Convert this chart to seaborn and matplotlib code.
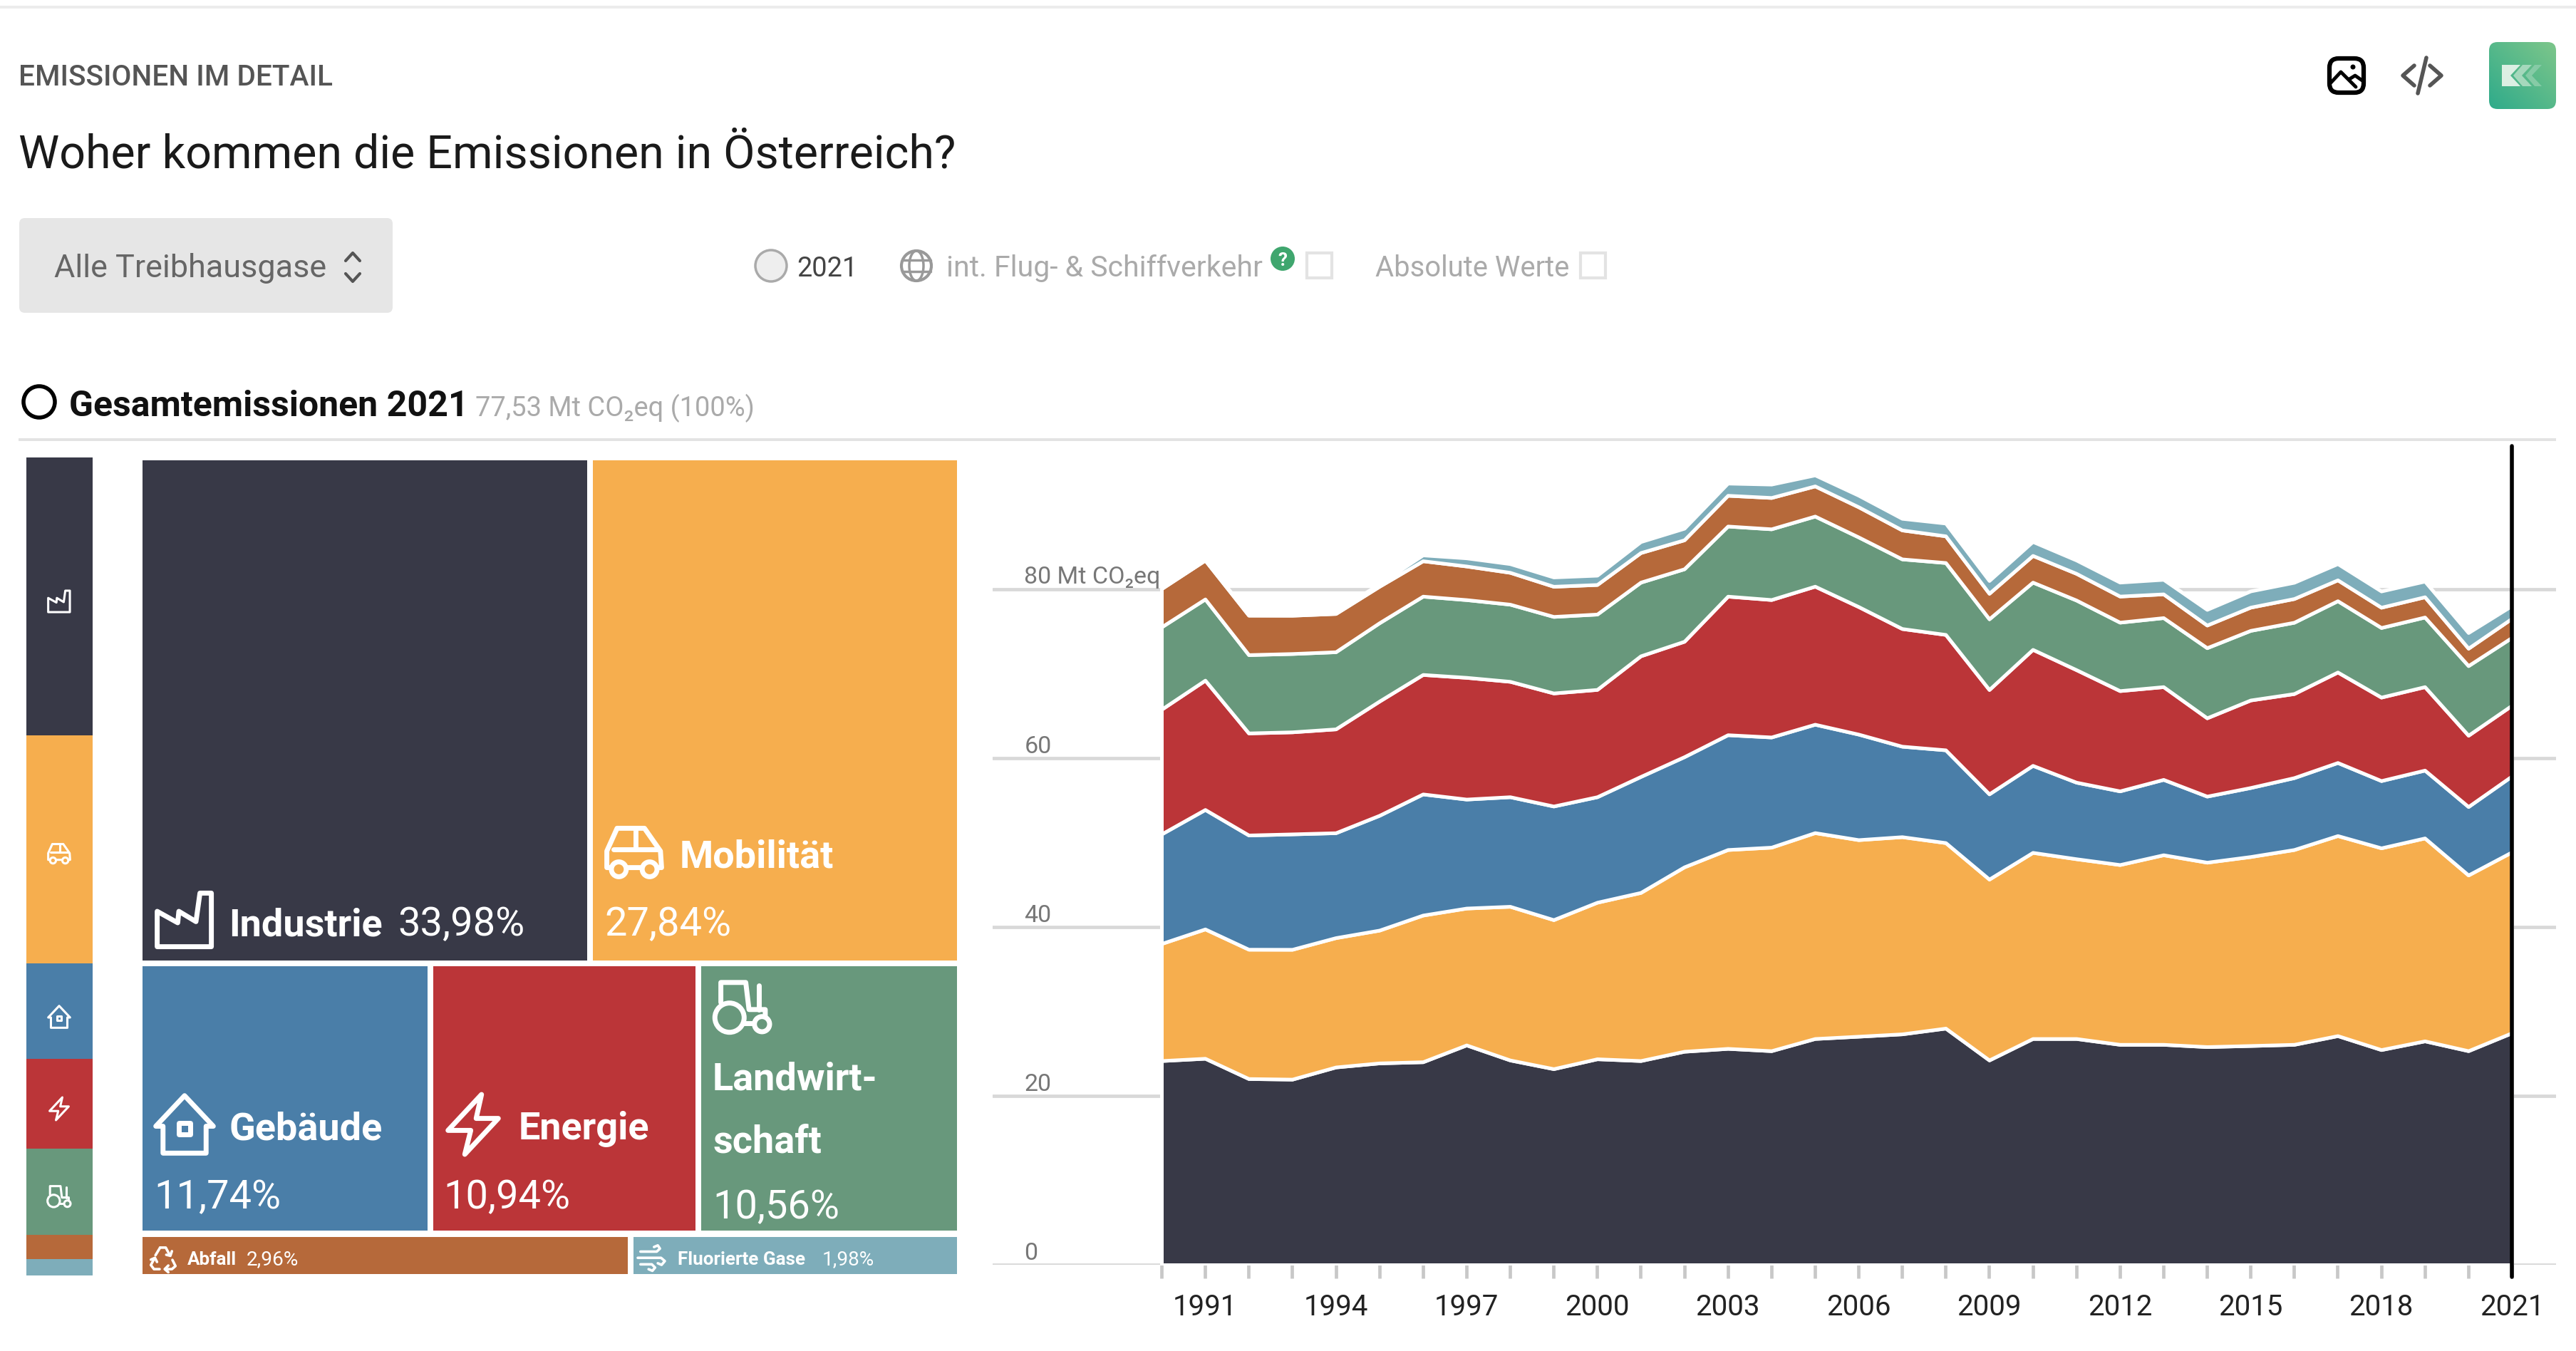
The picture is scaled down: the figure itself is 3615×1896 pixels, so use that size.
"""
Woher kommen die Emissionen in Oesterreich? - treemap plus stacked area
"""
import numpy as np
import pandas as pd
import matplotlib
matplotlib.use('Agg')
import matplotlib.pyplot as plt
from matplotlib.patches import Circle, FancyBboxPatch, Polygon, Rectangle
import seaborn as sns

W, H = 3615, 1896

YEARS = list(range(1990, 2022))
SECTORS = ['Industrie', 'Mobilität', 'Gebäude', 'Energie', 'Landwirtschaft', 'Abfall', 'Fluorierte Gase']
COLORS = ['#383947', '#F6AE4E', '#4A7EA8', '#BB3538', '#68987C', '#B6693A', '#7EADBA']
SHARES = [33.98, 27.84, 11.74, 10.94, 10.56, 2.96, 1.98]

industrie = [24.16, 24.43, 22.03, 21.96, 23.40, 23.88, 24.02, 26.01, 24.23, 23.20, 24.37, 24.16, 25.26, 25.60, 25.33, 26.77,
             27.04, 27.32, 28.00, 24.23, 26.77, 26.77, 26.08, 26.08, 25.81, 25.94, 26.08, 27.11, 25.46, 26.49, 25.33, 27.45]
mobilitaet = [13.86, 15.31, 15.31, 15.37, 15.31, 15.72, 17.36, 16.20, 18.19, 17.64, 18.53, 19.90, 21.83, 23.54, 24.09, 24.37,
              23.27, 23.34, 21.96, 21.41, 22.03, 21.28, 21.28, 22.44, 21.83, 22.37, 23.06, 23.68, 23.88, 24.02, 20.80, 21.41]
gebaeude = [12.97, 14.14, 13.52, 13.66, 12.42, 13.59, 14.34, 12.90, 12.97, 13.45, 12.49, 13.73, 13.04, 13.59, 13.04, 12.83,
            12.49, 10.71, 10.98, 10.09, 10.30, 9.06, 8.72, 8.92, 7.82, 8.17, 8.51, 8.65, 7.96, 8.03, 8.10, 8.99]
energie = [14.76, 15.31, 12.08, 12.08, 12.29, 13.52, 14.14, 14.41, 13.66, 13.38, 12.70, 14.28, 13.66, 16.40, 16.27, 16.34,
           15.10, 13.93, 13.66, 12.35, 13.73, 13.32, 11.87, 10.98, 9.27, 10.36, 9.95, 10.71, 9.88, 9.88, 8.44, 8.37]
landwirtschaft = [9.75, 9.61, 9.27, 9.27, 9.13, 9.27, 9.27, 9.20, 9.13, 9.06, 8.92, 8.72, 8.58, 8.30, 8.37, 8.30,
                  8.24, 8.24, 8.51, 8.37, 7.96, 8.24, 8.10, 8.17, 8.30, 8.24, 8.44, 8.44, 8.24, 8.24, 8.24, 8.03]
abfall = [4.53, 4.60, 4.67, 4.53, 4.53, 4.32, 4.19, 3.98, 3.77, 3.57, 3.50, 3.50, 3.43, 3.64, 3.71, 3.57,
          3.57, 3.43, 3.16, 3.02, 3.16, 3.16, 3.09, 2.81, 2.68, 2.75, 2.81, 2.47, 2.40, 2.40, 2.06, 2.26]
fluor = [0.05, 0.05, 0.1, 0.2, 0.25, 0.3, 0.69, 0.96, 1.03, 1.10, 1.10, 1.30, 1.37, 1.44, 1.58, 1.30,
         1.37, 1.37, 1.51, 1.51, 1.65, 1.58, 1.65, 1.72, 1.85, 1.92, 1.92, 1.92, 1.92, 1.85, 1.85, 1.51]
SERIES = [industrie, mobilitaet, gebaeude, energie, landwirtschaft, abfall, fluor]

YTICKS = [0, 20, 40, 60, 80]
YLABELS = ['0', '20', '40', '60', '80 Mt CO₂eq']
XLABEL_YEARS = list(range(1991, 2022, 3))

sns.set_theme(style='white')
plt.rcParams['font.family'] = ['Roboto', 'DejaVu Sans']

fig = plt.figure(figsize=(W / 100, H / 100), dpi=100, facecolor='white')


def px_axes(x0, y0, x1, y1, **kw):
    return fig.add_axes([x0 / W, 1 - y1 / H, (x1 - x0) / W, (y1 - y0) / H], **kw)


# stacked area
chart_x0, chart_x1 = 1630, 3525
yr_px = (chart_x1 - chart_x0) / 31
val_px = (1775 - 826.5) / 80
ax = px_axes(1393, 626, 3587, 1775)
df = pd.DataFrame({'year': YEARS * len(SECTORS),
                   'sector': [s for s in SECTORS for _ in YEARS],
                   'value': np.concatenate(SERIES)})
sns.histplot(data=df, x='year', weights='value', hue='sector', hue_order=SECTORS[::-1],
             palette=dict(zip(SECTORS, COLORS)), multiple='stack', element='poly', discrete=True,
             alpha=1, edgecolor='white', linewidth=3.6, legend=False, ax=ax, zorder=3)
ax.set_xlim(1990 - (chart_x0 - 1393) / yr_px, 2021 + (3587 - chart_x1) / yr_px)
ax.set_ylim(0, (1775 - 626) / val_px)
ax.set_xlabel('')
ax.set_ylabel('')
ax.set_yticks(YTICKS)
ax.set_yticklabels([])
ax.yaxis.grid(True, color='#D8D8D8', linewidth=3.4, zorder=0)
ax.xaxis.grid(False)
ax.set_axisbelow(True)
ax.tick_params(axis='y', length=0)
ax.set_xticks(YEARS)
ax.set_xticklabels([str(y) if y in XLABEL_YEARS else '' for y in YEARS], fontsize=29, color='#222222')
ax.tick_params(axis='x', length=14, width=3.4, color='#C8C8C8', pad=15, bottom=True)
sns.despine(ax=ax, left=True, bottom=True, top=True, right=True)
for t, lab in zip(YTICKS, YLABELS):
    ax.text(1986.85, t + 0.6, lab, fontsize=24.5, color='#777777', va='baseline', ha='left', zorder=1)
ax.plot([2021, 2021], [-1.4, ax.get_ylim()[1]], color='black', linewidth=4, clip_on=False, zorder=5)

# left stacked bar, same shares as the treemap
ax_bar = px_axes(37, 642, 130, 1790)
df_share = pd.DataFrame({'pos': [0] * len(SECTORS), 'sector': SECTORS, 'share': SHARES})
sns.histplot(data=df_share, x='pos', weights='share', hue='sector', hue_order=SECTORS,
             palette=dict(zip(SECTORS, COLORS)), multiple='stack', discrete=True, shrink=1,
             alpha=1, linewidth=0, legend=False, ax=ax_bar)
ax_bar.set_xlim(-0.5, 0.5)
ax_bar.set_ylim(0, sum(SHARES))
ax_bar.axis('off')

# treemap, rectangles follow from the shares row by row
ax_tree = px_axes(200, 646, 1343, 1788)
ax_tree.set_xlim(0, 100)
ax_tree.set_ylim(sum(SHARES), 0)
ax_tree.axis('off')
gap = 0.36
row_top = 0
for row in [(0, 1), (2, 3, 4), (5, 6)]:
    row_sum = sum(SHARES[i] for i in row)
    left = 0
    for i in row:
        wd = SHARES[i] / row_sum * 100
        x_a = left + (gap if left > 0 else 0)
        x_b = left + wd - (gap if left + wd < 99.9 else 0)
        y_a = row_top + (gap if row_top > 0 else 0)
        y_b = row_top + row_sum - (gap if row_top + row_sum < 99.9 else 0)
        ax_tree.add_patch(Rectangle((x_a, y_a), x_b - x_a, y_b - y_a, facecolor=COLORS[i], edgecolor='none'))
        left += wd
    row_top += row_sum

# overlay in pixel coords for all the page furniture
ui = fig.add_axes([0, 0, 1, 1], facecolor='none')
ui.set_xlim(0, W)
ui.set_ylim(H, 0)
ui.axis('off')


def txt(x, y, s, px, color='#222222', weight='normal', ha='left'):
    return ui.text(x, y, s, fontsize=px * 0.72, color=color, fontweight=weight, ha=ha, va='baseline')


def stroke(pts, lw, color='white', closed=False, fc='none'):
    ui.add_patch(Polygon(pts, closed=closed, fill=fc != 'none', facecolor=fc, edgecolor=color,
                         linewidth=lw, joinstyle='round', capstyle='round'))


def icon(name, cx, cy, s, lw, bg, color='white'):
    def P(pts):
        return [(cx + a * s, cy + b * s) for a, b in pts]

    def C(a, b, r):
        ui.add_patch(Circle((cx + a * s, cy + b * s), r * s, facecolor=bg, edgecolor=color, linewidth=lw))

    if name == 'factory':
        stroke(P([(-.48, .47), (-.48, -.15), (-.12, .05), (-.1, -.15), (.2, .03), (.27, -.47), (.47, -.47), (.47, .47)]), lw, color, True)
    elif name == 'car':
        stroke(P([(-.48, .27), (-.48, -.02), (-.3, -.42), (.18, -.42), (.46, -.02), (.48, .27)]), lw, color, True)
        stroke(P([(-.36, -.05), (.42, -.05)]), lw, color)
        stroke(P([(.02, -.42), (.02, -.05)]), lw, color)
        C(-.27, .3, .13)
        C(.27, .3, .13)
    elif name == 'house':
        stroke(P([(-.48, .03), (0, -.48), (.48, .03), (.36, .03), (.36, .48), (-.36, .48), (-.36, .03)]), lw, color, True)
        stroke(P([(-.09, -.02), (.09, -.02), (.09, .17), (-.09, .17)]), lw, color, True)
    elif name == 'bolt':
        stroke(P([(.14, -.5), (-.42, .1), (-.04, .1), (-.14, .5), (.42, -.1), (.05, -.1)]), lw, color, True)
    elif name == 'tractor':
        stroke(P([(-.4, -.08), (-.4, -.45), (.06, -.45), (.12, .05), (.42, .05), (.42, .2)]), lw, color)
        stroke(P([(.3, .05), (.3, -.4)]), lw, color)
        stroke(P([(.02, .3), (.22, .3)]), lw, color)
        C(-.24, .2, .27)
        C(.36, .32, .14)
    elif name == 'recycle':
        stroke(P([(-.12, -.42), (.1, -.42), (.24, -.16)]), lw, color)
        stroke(P([(.12, -.14), (.28, -.1), (.34, -.28)]), lw, color)
        stroke(P([(.36, .06), (.48, .3), (.34, .42), (.08, .42)]), lw, color)
        stroke(P([(.2, .28), (.06, .42), (.2, .54)]), lw, color)
        stroke(P([(-.14, .42), (-.36, .42), (-.48, .26), (-.34, 0)]), lw, color)
        stroke(P([(-.48, .05), (-.32, -.02), (-.24, .14)]), lw, color)
        stroke(P([(-.3, -.12), (-.12, -.42)]), lw, color)
    elif name == 'wind':
        stroke(P([(-.4, -.25), (.2, -.25), (.32, -.36), (.24, -.48), (.1, -.42)]), lw, color)
        stroke(P([(-.5, -.02), (.36, -.02), (.5, .1), (.38, .24), (.24, .18)]), lw, color)
        stroke(P([(-.4, .22), (.02, .22), (.14, .34), (.04, .46), (-.1, .4)]), lw, color)


# header
ui.add_patch(Rectangle((0, 8), W, 4, facecolor='#ECECEC', edgecolor='none'))
txt(26, 120, 'EMISSIONEN IM DETAIL', 40.5, color='#555555', weight='medium')
txt(26, 235, 'Woher kommen die Emissionen in Österreich?', 64.5, color='#1A1A1A')
ui.add_patch(FancyBboxPatch((33, 312), 512, 121, boxstyle='round,pad=6,rounding_size=8', facecolor='#E6E6E6', edgecolor='none'))
txt(76, 389, 'Alle Treibhausgase', 45, color='#666666')
stroke([(485, 366), (495, 355), (505, 366)], 3, '#555555')
stroke([(485, 384), (495, 395), (505, 384)], 3, '#555555')

ui.add_patch(Circle((1082, 373), 22, facecolor='#EEEEEE', edgecolor='#AAAAAA', linewidth=2.5))
txt(1118, 388, '2021', 38, color='#444444')
ui.add_patch(Circle((1286, 373), 21, facecolor='none', edgecolor='#999999', linewidth=3))
ui.add_patch(matplotlib.patches.Ellipse((1286, 373), 20, 42, facecolor='none', edgecolor='#999999', linewidth=2.5))
stroke([(1266, 365), (1306, 365)], 2.5, '#999999')
stroke([(1266, 381), (1306, 381)], 2.5, '#999999')
txt(1328, 388, 'int. Flug- & Schiffverkehr', 41, color='#AAAAAA')
ui.add_patch(Circle((1800, 363), 17, facecolor='#3FA66E', edgecolor='none'))
txt(1800, 373, '?', 26, color='white', weight='bold', ha='center')
ui.add_patch(Rectangle((1834, 355), 35, 35, facecolor='white', edgecolor='#E3E3E3', linewidth=3))
txt(1930, 388, 'Absolute Werte', 40, color='#AAAAAA')
ui.add_patch(Rectangle((2218, 355), 35, 35, facecolor='white', edgecolor='#E3E3E3', linewidth=3))

ui.add_patch(Circle((55, 564), 22, facecolor='white', edgecolor='black', linewidth=4))
txt(97, 584, 'Gesamtemissionen 2021', 50, color='#111111', weight='bold')
txt(667, 584, '77,53 Mt CO₂eq (100%)', 38, color='#AAAAAA')
ui.add_patch(Rectangle((26, 615), 3561, 4, facecolor='#E3E3E3', edgecolor='none'))

# top right buttons
ui.add_patch(FancyBboxPatch((3269, 82), 48, 48, boxstyle='round,pad=0,rounding_size=13', facecolor='none', edgecolor='black', linewidth=4.5))
stroke([(3271, 116), (3285, 101), (3306, 122)], 3.5, 'black')
stroke([(3297, 111), (3305, 106), (3315, 113)], 3.5, 'black')
ui.add_patch(Circle((3302, 94), 3.5, facecolor='black', edgecolor='none'))
stroke([(3388, 92), (3372, 106), (3388, 120)], 4, '#555555')
stroke([(3410, 92), (3426, 106), (3410, 120)], 4, '#555555')
stroke([(3405, 81), (3393, 131)], 4, '#555555')
logo = FancyBboxPatch((3502, 68), 76, 76, boxstyle='round,pad=9,rounding_size=12', facecolor='none', edgecolor='none')
ui.add_patch(logo)
u, v = np.meshgrid(np.linspace(0, 1, 64), np.linspace(0, 1, 64))
im = ui.imshow(u + (1 - v), extent=(3493, 3587, 153, 59), cmap=matplotlib.colors.LinearSegmentedColormap.from_list('logo', ['#2FAB8A', '#7DC68A']),
               aspect='auto', zorder=2)
im.set_clip_path(logo)
ui.set_xlim(0, W)
ui.set_ylim(H, 0)
ui.add_patch(Polygon([(3511, 91), (3537, 91), (3523, 106), (3537, 121), (3511, 121)], facecolor='#DCEFE3', edgecolor='none', zorder=3))
ui.add_patch(Polygon([(3540, 91), (3553, 91), (3539, 106), (3553, 121), (3540, 121), (3527, 106)], facecolor='#A5D8BC', edgecolor='none', zorder=3))
ui.add_patch(Polygon([(3557, 91), (3567, 91), (3553, 106), (3567, 121), (3557, 121), (3544, 106)], facecolor='#86CBA6', edgecolor='none', zorder=3))

# icons on the left bar
for nm, cy, bg in zip(['factory', 'car', 'house', 'bolt', 'tractor'], [844, 1198, 1427, 1556, 1679], COLORS):
    icon(nm, 83, cy, 32, 2.2, bg)


def pct(v):
    return f'{v:.2f}'.replace('.', ',') + '%'


# treemap labels
icon('factory', 259, 1291, 80, 5, COLORS[0])
txt(321, 1313, 'Industrie', 54, color='white', weight='bold')
txt(558, 1313, pct(SHARES[0]), 56, color='white')
icon('car', 890, 1196, 80, 5, COLORS[1])
txt(954, 1218, 'Mobilität', 54, color='white', weight='bold')
txt(848, 1313, pct(SHARES[1]), 56, color='white')
icon('house', 259, 1578, 84, 5, COLORS[2])
txt(321, 1599, 'Gebäude', 54, color='white', weight='bold')
txt(216, 1696, pct(SHARES[2]), 56, color='white')
icon('bolt', 664, 1578, 84, 5, COLORS[3])
txt(728, 1599, 'Energie', 54, color='white', weight='bold')
txt(622, 1696, pct(SHARES[3]), 56, color='white')
icon('tractor', 1042, 1413, 76, 5, COLORS[4])
txt(1000, 1530, 'Landwirt-', 54, color='white', weight='bold')
txt(1000, 1617, 'schaft', 54, color='white', weight='bold')
txt(1000, 1710, pct(SHARES[4]), 56, color='white')
icon('recycle', 229, 1766, 36, 2.6, COLORS[5])
txt(263, 1775, 'Abfall', 26, color='white', weight='bold')
txt(346, 1775, pct(SHARES[5]), 28, color='white')
icon('wind', 914, 1766, 38, 2.6, COLORS[6])
txt(951, 1775, 'Fluorierte Gase', 26, color='white', weight='bold')
txt(1154, 1775, pct(SHARES[6]), 28, color='white')

fig.savefig('out.png', dpi=100, facecolor='white')
